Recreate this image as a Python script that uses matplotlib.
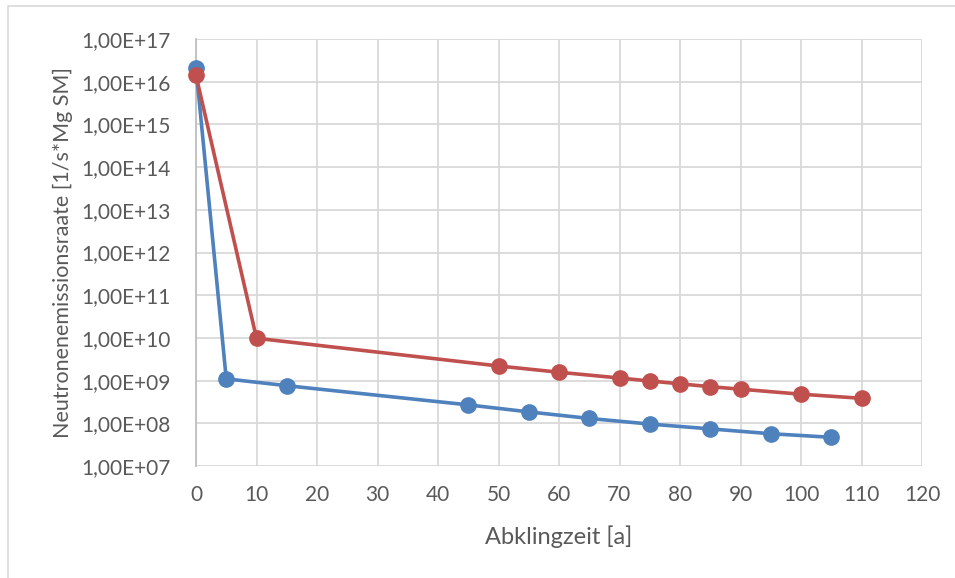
import math
import matplotlib
matplotlib.use("Agg")
import matplotlib.pyplot as plt
from matplotlib.patches import Rectangle
from matplotlib.ticker import FixedLocator, FuncFormatter, NullLocator

# Abklingzeit [a] and neutron emission rates [1/s*Mg SM]
x_blue = [0, 5, 15, 45, 55, 65, 75, 85, 95, 105]
y_blue = [2.1e16, 1.1e9, 7.6e8, 2.7e8, 1.85e8, 1.3e8, 9.6e7, 7.4e7, 5.7e7, 4.7e7]

x_red = [0, 10, 50, 60, 70, 75, 80, 85, 90, 100, 110]
y_red = [1.4e16, 9.8e9, 2.2e9, 1.57e9, 1.15e9, 9.8e8, 8.4e8, 7.2e8, 6.3e8, 4.8e8, 3.85e8]

x_ticks = list(range(0, 121, 10))
y_exponents = list(range(7, 18))

FONT = "Lato"
TXT = "#595959"
GRID = "#d9d9d9"

fig = plt.figure(figsize=(9.55, 5.78), dpi=100)
fig.patch.set_facecolor("white")
ax = fig.add_axes([196 / 955, 1 - 466 / 578, (922 - 196) / 955, (466 - 39) / 578])

ax.set_yscale("log")
ax.set_xlim(0, 120)
ax.set_ylim(1e7, 1e17)

ax.plot(x_blue, y_blue, color="#4F81BD", lw=2.6, marker="o", ms=11,
        solid_capstyle="round", zorder=3, clip_on=False)
ax.plot(x_red, y_red, color="#C0504D", lw=2.6, marker="o", ms=11,
        solid_capstyle="round", zorder=4, clip_on=False)

ax.xaxis.set_major_locator(FixedLocator(x_ticks))
ax.yaxis.set_major_locator(FixedLocator([10.0 ** e for e in y_exponents]))
ax.yaxis.set_minor_locator(NullLocator())
ax.yaxis.set_major_formatter(FuncFormatter(lambda v, p: "1,00E+%02d" % round(math.log10(v))))

ax.grid(True, color=GRID, lw=1.3, zorder=0)
ax.set_axisbelow(True)
for s in ["top", "right", "bottom"]:
    ax.spines[s].set_visible(False)
ax.spines["left"].set_color("#bfbfbf")
ax.spines["left"].set_linewidth(1.3)
ax.tick_params(axis="y", length=0, pad=18, labelsize=15, labelcolor=TXT)
ax.tick_params(axis="x", length=0, pad=14, labelsize=15, labelcolor=TXT)
for lab in ax.get_xticklabels() + ax.get_yticklabels():
    lab.set_fontfamily(FONT)

ax.set_xlabel("Abklingzeit [a]", fontsize=17, color=TXT, fontfamily=FONT, labelpad=14)
ax.set_ylabel("Neutronenemissionsraate [1/s*Mg SM]", fontsize=15.5, color=TXT,
              fontfamily=FONT, labelpad=6)

fig.patches.append(Rectangle((8 / 955, -0.05), 1.2, 1 - 6 / 578 + 0.05,
                             transform=fig.transFigure, fill=False,
                             edgecolor=GRID, lw=1.2))

fig.savefig("out.png", dpi=100, facecolor="white")
